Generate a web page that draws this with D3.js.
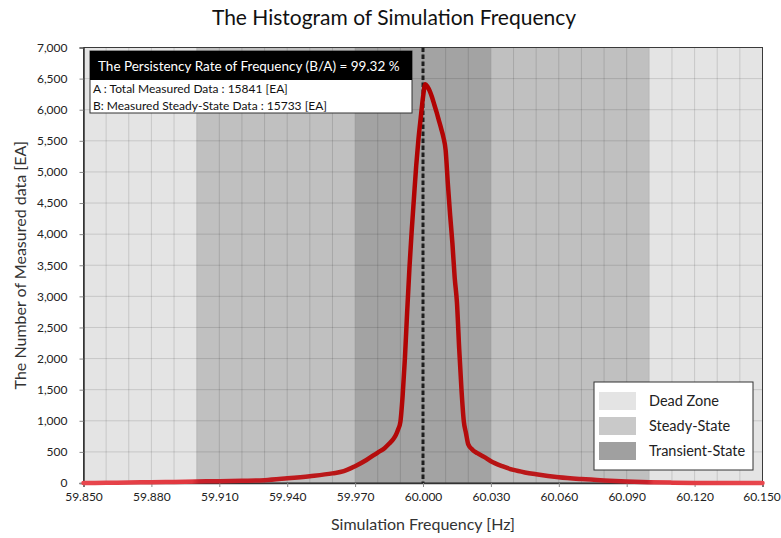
<!DOCTYPE html>
<html lang="en">
<head>
<meta charset="UTF-8">
<title>The Histogram of Simulation Frequency</title>
<script src="https://cdn.jsdelivr.net/npm/d3@7"></script>
<style>
    body { margin: 0; background: #fff; }
    svg { display: block; font-family: Lato, "Open Sans", sans-serif; }
</style>
</head>
<body>
<script>
    // measured frequency histogram
    const freqHz = [59.850, 59.860, 59.870, 59.880, 59.890, 59.900, 59.910, 59.920, 59.930, 59.940,
        59.950, 59.960, 59.965, 59.970, 59.975, 59.980, 59.983, 59.985, 59.987, 59.988,
        59.989, 59.990, 59.991, 59.992, 59.993, 59.994, 59.995, 59.996, 59.997, 59.998,
        59.999, 60.000, 60.001, 60.002, 60.003, 60.004, 60.005, 60.006, 60.007, 60.008,
        60.009, 60.010, 60.011, 60.012, 60.013, 60.014, 60.015, 60.016, 60.017, 60.018,
        60.019, 60.020, 60.022, 60.024, 60.027, 60.030, 60.035, 60.040, 60.045, 60.050,
        60.060, 60.070, 60.080, 60.090, 60.100, 60.110, 60.120, 60.130, 60.150];
    const counts = [0, 4, 8, 13, 18, 25, 30, 36, 45, 75,
        110, 155, 190, 270, 370, 490, 560, 630, 710, 770,
        860, 980, 1400, 2000, 2750, 3450, 4050, 4580, 5100, 5530,
        5870, 6200, 6410, 6370, 6300, 6200, 6080, 5960, 5830, 5700,
        5560, 5350, 4800, 4300, 3850, 3300, 2900, 2150, 1500, 1000,
        800, 620, 530, 480, 420, 350, 270, 210, 170, 140,
        92, 63, 42, 25, 14, 6, 2, 0, 0];

    const zoneNames = ["Dead Zone", "Steady-State", "Transient-State"];
    const zoneColors = ["#e4e4e4", "#c0c0c0", "#a3a3a3"];
    const legendColors = ["#e4e4e4", "#c9c9c9", "#a0a0a0"];
    const zoneStart = [59.850, 59.900, 59.970, 60.030, 60.100];
    const zoneEnd = [59.900, 59.970, 60.030, 60.100, 60.150];
    const zoneType = [0, 1, 2, 1, 0];

    const xTicks = [59.850, 59.880, 59.910, 59.940, 59.970, 60.000, 60.030, 60.060, 60.090, 60.120, 60.150];
    const yTicks = [0, 500, 1000, 1500, 2000, 2500, 3000, 3500, 4000, 4500, 5000, 5500, 6000, 6500, 7000];

    const titleText = "The Histogram of Simulation Frequency";
    const xTitle = "Simulation Frequency [Hz]";
    const yTitle = "The Number of Measured data [EA]";
    const boxHeader = "The Persistency Rate of Frequency (B/A) = 99.32 %";
    const boxLines = ["A : Total Measured Data : 15841 [EA]", "B: Measured Steady-State Data : 15733 [EA]"];

    const W = 781, H = 538;
    const margin = { top: 47.5, right: 18.5, bottom: 55, left: 83.5 };
    const iw = W - margin.left - margin.right;
    const ih = H - margin.top - margin.bottom;

    const svg = d3.select("body").append("svg")
        .attr("width", W)
        .attr("height", H);

    const x = d3.scaleLinear().domain([59.85, 60.15]).range([0, iw]);
    const y = d3.scaleLinear().domain([0, 7000]).range([ih, 0]);

    const g = svg.append("g")
        .attr("transform", `translate(${margin.left},${margin.top})`);

    // background zones
    g.selectAll(".zone")
        .data(zoneStart)
        .enter()
        .append("rect")
        .attr("x", (d) => x(d))
        .attr("y", 0)
        .attr("width", (d, i) => x(zoneEnd[i]) - x(d))
        .attr("height", ih)
        .attr("fill", (d, i) => zoneColors[zoneType[i]]);

    // grid
    const minorX = d3.range(1, 30).map(i => 59.85 + i * 0.01);
    g.append("g")
        .selectAll("line")
        .data(minorX)
        .enter()
        .append("line")
        .attr("x1", d => x(d)).attr("x2", d => x(d))
        .attr("y1", 0).attr("y2", ih)
        .attr("stroke", "rgba(0,0,0,0.13)")
        .attr("stroke-width", 1);
    g.append("g")
        .selectAll("line")
        .data(yTicks.slice(1))
        .enter()
        .append("line")
        .attr("x1", 0).attr("x2", iw)
        .attr("y1", d => y(d)).attr("y2", d => y(d))
        .attr("stroke", "rgba(0,0,0,0.13)")
        .attr("stroke-width", 1);

    // plot frame
    g.append("rect")
        .attr("width", iw).attr("height", ih)
        .attr("fill", "none")
        .attr("stroke", "#3a3a3a")
        .attr("stroke-width", 1);

    // axes
    const xAxis = g.append("g")
        .attr("transform", `translate(0,${ih})`)
        .call(d3.axisBottom(x).tickValues(xTicks).tickFormat(d3.format(".3f")).tickSize(4).tickPadding(5));
    const yAxis = g.append("g")
        .call(d3.axisLeft(y).tickValues(yTicks).tickFormat(d3.format(",")).tickSize(4).tickPadding(12));
    [xAxis, yAxis].forEach(a => {
        a.select(".domain").attr("stroke", "#333").attr("stroke-width", 1.5);
        a.selectAll(".tick line").attr("stroke", "#888");
        a.selectAll("text").attr("fill", "#222").style("font-size", "12px")
            .style("font-family", "Lato, 'Open Sans', sans-serif");
    });
    // keep the last x label inside the page
    xAxis.selectAll(".tick:last-of-type text").attr("dx", "-1px");

    // reference at 60 Hz
    g.append("line")
        .attr("x1", x(60)).attr("x2", x(60))
        .attr("y1", 0).attr("y2", ih)
        .attr("stroke", "#1e1e1e")
        .attr("stroke-width", 3)
        .attr("stroke-dasharray", "4.5,2.5");

    // curve colour shading
    const grad = svg.append("defs").append("linearGradient")
        .attr("id", "curveGrad")
        .attr("gradientUnits", "userSpaceOnUse")
        .attr("x1", 0).attr("x2", iw).attr("y1", 0).attr("y2", 0);
    [[0, "#e8474e"], [0.16, "#e0363d"], [0.17, "#c8202a"], [0.38, "#b81616"], [0.5, "#b00000"],
     [0.62, "#b81616"], [0.83, "#c8202a"], [0.84, "#e0363d"], [1, "#e8474e"]]
        .forEach(s => grad.append("stop").attr("offset", s[0]).attr("stop-color", s[1]));

    const line = d3.line()
        .x((d, i) => x(freqHz[i]))
        .y(d => y(d))
        .curve(d3.curveMonotoneX);

    g.append("path")
        .datum(counts)
        .attr("d", line)
        .attr("fill", "none")
        .attr("stroke", "url(#curveGrad)")
        .attr("stroke-width", 4.5)
        .attr("stroke-linejoin", "round")
        .attr("stroke-linecap", "round");

    // info box
    const box = svg.append("g").attr("transform", "translate(90,51)");
    box.append("rect")
        .attr("width", 322).attr("height", 62)
        .attr("fill", "#fff")
        .attr("stroke", "#333").attr("stroke-width", 1);
    box.append("rect")
        .attr("width", 322).attr("height", 29)
        .attr("fill", "#000");
    box.append("text")
        .attr("x", 8).attr("y", 19.5)
        .attr("fill", "#fff")
        .style("font-size", "13.5px")
        .text(boxHeader);
    box.selectAll(".ln")
        .data(boxLines)
        .enter()
        .append("text")
        .attr("x", 3).attr("y", (d, i) => 41.5 + i * 17.5)
        .attr("fill", "#111")
        .style("font-size", "12px")
        .text(d => d);

    // legend
    const leg = svg.append("g").attr("transform", "translate(594,382)");
    leg.append("rect")
        .attr("width", 159).attr("height", 88)
        .attr("fill", "#fff")
        .attr("stroke", "#333").attr("stroke-width", 1);
    const items = leg.selectAll(".item")
        .data(zoneNames)
        .enter()
        .append("g")
        .attr("transform", (d, i) => `translate(5,${10 + i * 25})`);
    items.append("rect")
        .attr("width", 37).attr("height", 18)
        .attr("fill", (d, i) => legendColors[i]);
    items.append("text")
        .attr("x", 50).attr("y", 14)
        .attr("fill", "#222")
        .style("font-size", "14.5px")
        .text(d => d);

    // titles
    svg.append("text")
        .attr("x", 394).attr("y", 25)
        .attr("text-anchor", "middle")
        .attr("fill", "#111")
        .style("font-size", "21px")
        .text(titleText);
    svg.append("text")
        .attr("x", margin.left + iw / 2).attr("y", 530)
        .attr("text-anchor", "middle")
        .attr("fill", "#333")
        .style("font-size", "16px")
        .text(xTitle);
    svg.append("text")
        .attr("transform", `translate(26,${margin.top + ih / 2}) rotate(-90)`)
        .attr("text-anchor", "middle")
        .attr("fill", "#333")
        .style("font-size", "16px")
        .text(yTitle);
</script>
</body>
</html>
